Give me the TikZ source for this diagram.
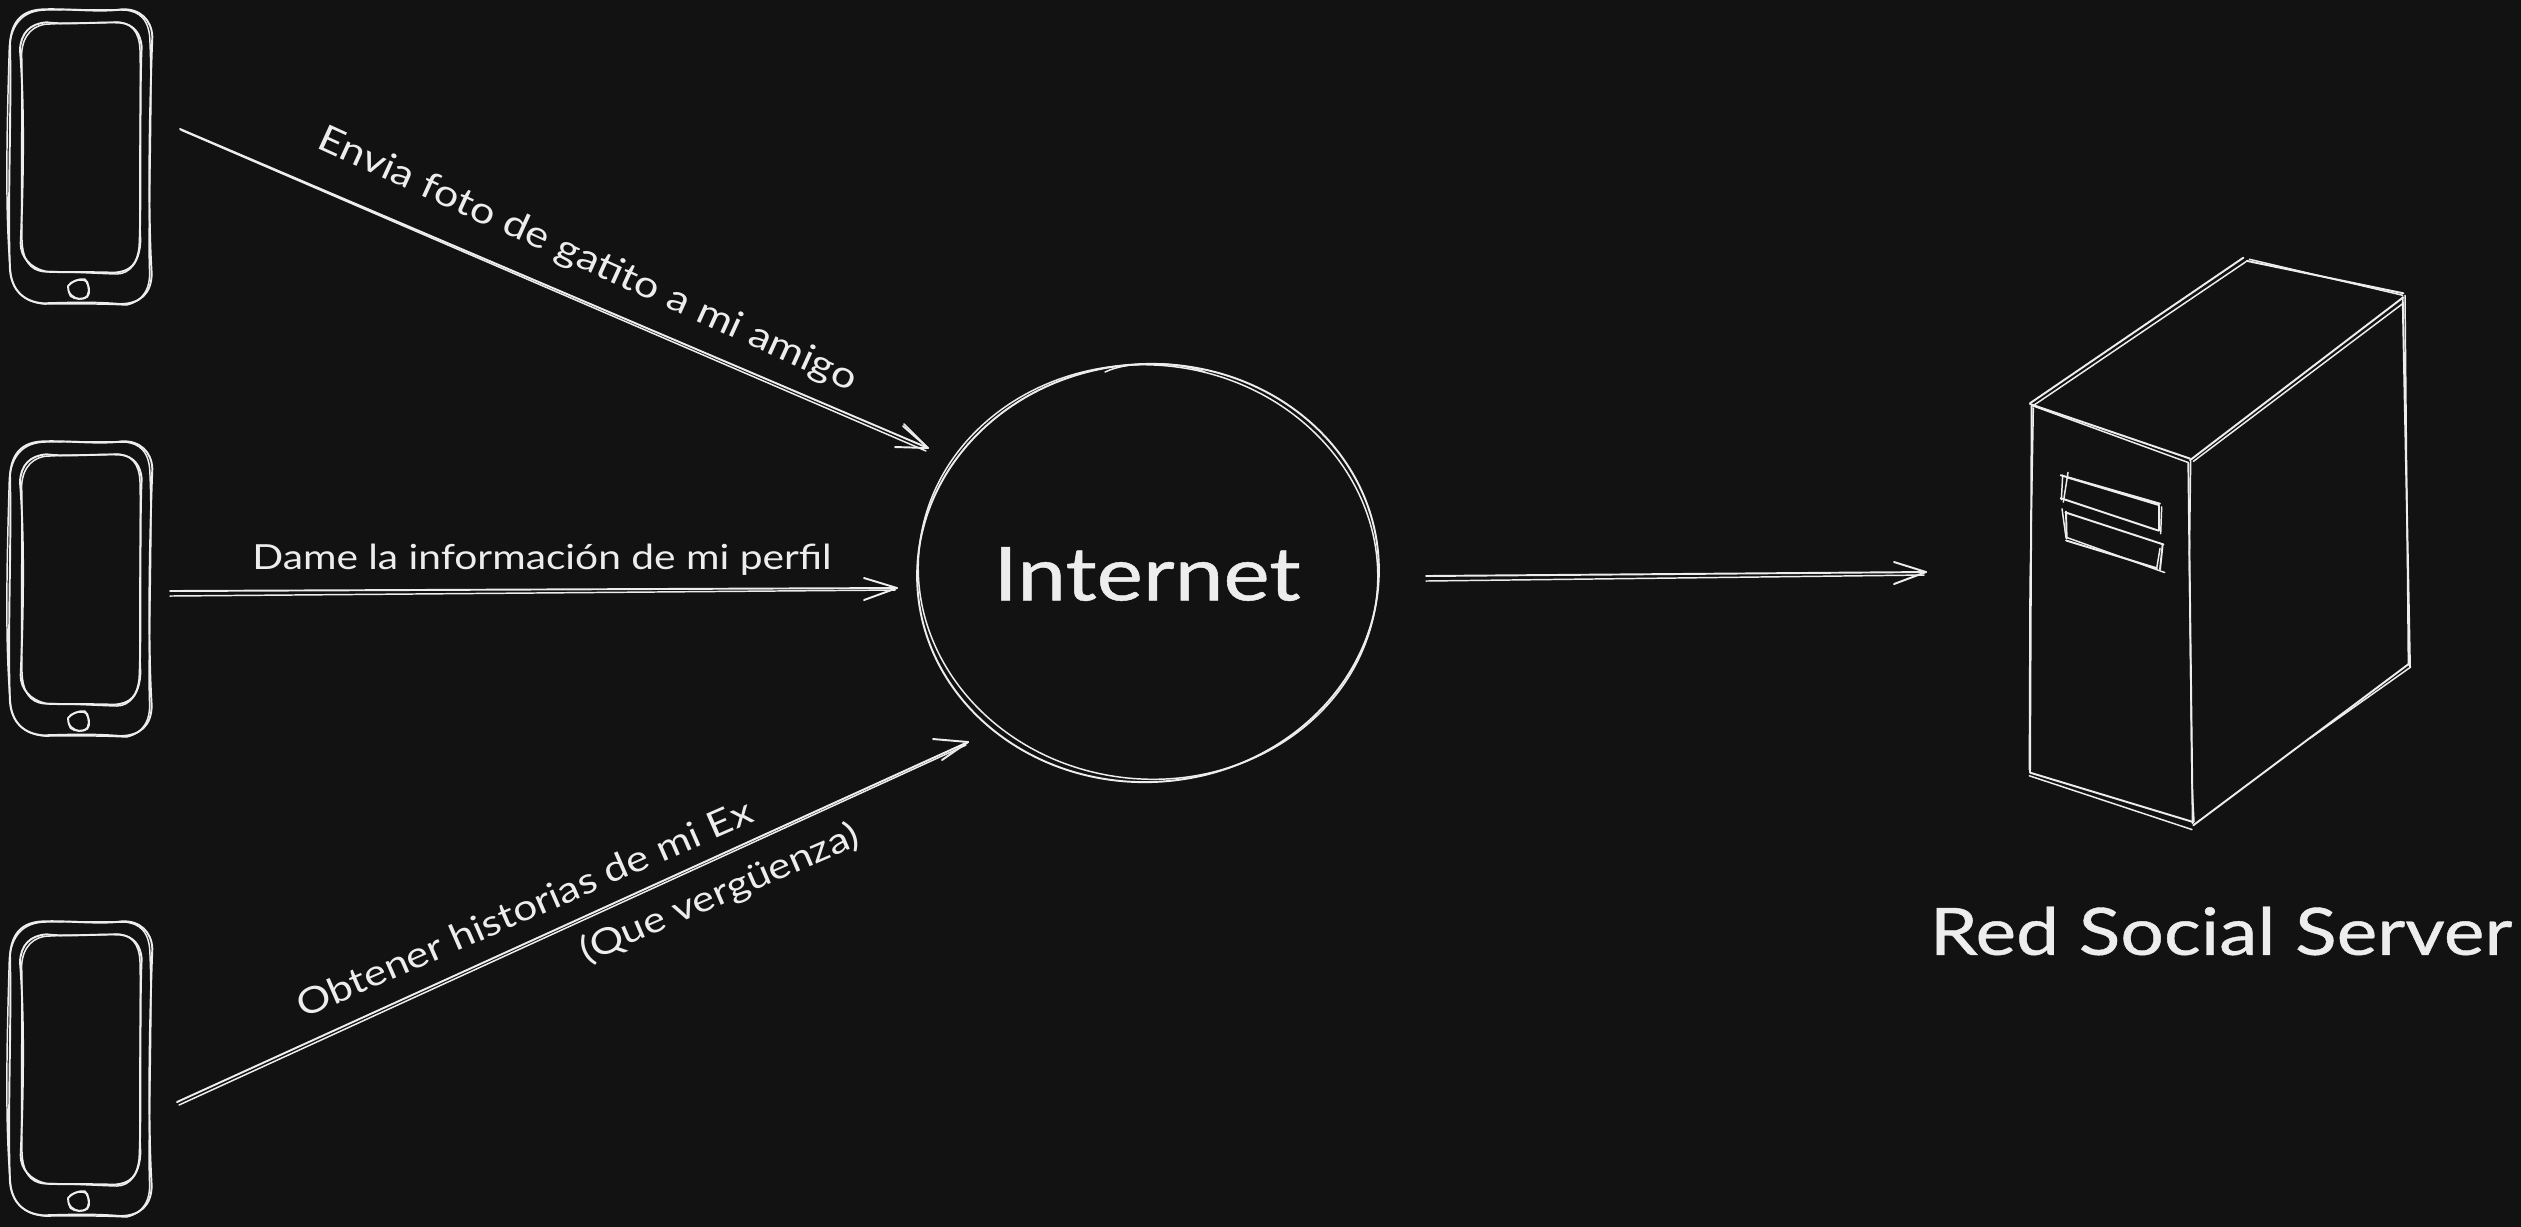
\documentclass[tikz,border=0pt]{standalone}
\usepackage{fontspec}
\setmainfont{Lato}
\newfontfamily\heavyfont[FakeBold=0.6]{Lato}
\definecolor{bgdark}{HTML}{121212}
\definecolor{inkw}{HTML}{EDEDED}
\newcommand{\fitw}[2]{\scalebox{1}[0.85]{\resizebox{#1}{!}{#2}}}
\tikzset{
  sk/.style={draw=inkw,line width=0.55pt,line cap=round,line join=round},
  skt/.style={sk,line width=0.42pt},
  lbl/.style={text=inkw,inner sep=0pt,font=\mdseries},
  phone/.pic={
    \begin{scope}[scale=0.33333]
    \draw[sk] (30,130) .. controls (35,60) and (70,30) .. (130,28) .. controls (200,25) and (300,38) .. (365,28) .. controls (420,25) and (455,60) .. (457,110) .. controls (450,300) and (442,600) .. (455,820) .. controls (455,880) and (420,912) .. (360,912) .. controls (280,905) and (200,908) .. (130,910) .. controls (70,905) and (35,870) .. (30,810) .. controls (22,600) and (35,350) .. (30,130);
    \draw[skt] (28,140) .. controls (35,70) and (70,32) .. (135,30) .. controls (220,28) and (300,30) .. (370,30) .. controls (420,32) and (450,60) .. (450,130) .. controls (458,300) and (445,600) .. (448,800) .. controls (455,870) and (425,905) .. (380,915) .. controls (290,910) and (200,912) .. (135,912) .. controls (75,908) and (40,875) .. (32,820) .. controls (15,650) and (20,400) .. (28,140);
    \draw[sk] (60,150) .. controls (62,100) and (90,70) .. (140,67) .. controls (200,75) and (300,65) .. (360,68) .. controls (400,72) and (422,100) .. (425,140) .. controls (418,300) and (425,600) .. (418,740) .. controls (412,790) and (395,815) .. (340,818) .. controls (280,815) and (200,818) .. (140,815) .. controls (90,805) and (62,770) .. (62,730) .. controls (72,500) and (72,300) .. (60,150);
    \draw[skt] (65,160) .. controls (68,105) and (100,72) .. (150,72) .. controls (220,68) and (300,70) .. (350,66) .. controls (395,68) and (418,95) .. (420,150) .. controls (424,300) and (415,600) .. (422,720) .. controls (420,785) and (390,822) .. (350,822) .. controls (280,820) and (200,814) .. (130,815) .. controls (90,810) and (68,780) .. (66,720) .. controls (62,500) and (68,300) .. (65,160);
    \draw[sk] (204,858) .. controls (215,845) and (235,835) .. (255,838) .. controls (270,860) and (270,880) .. (262,890) .. controls (245,900) and (225,898) .. (212,888) .. controls (205,875) and (204,865) .. (204,858);
    \draw[skt] (210,850) .. controls (225,840) and (245,835) .. (262,845) .. controls (268,865) and (268,885) .. (255,895) .. controls (235,902) and (215,890) .. (206,875);
    \end{scope}
  }
}
\begin{document}
\begin{tikzpicture}[x=0.01cm,y=-0.01cm]
\useasboundingbox (0,0) rectangle (2521,1226);
\fill[bgdark] (-8,-8) rectangle (2529,1234);

% phones
\pic (phoneA) at (0,0) {phone};
\pic (phoneB) at (0,432) {phone};
\pic (phoneC) at (0,912) {phone};

% internet cloud
\draw[sk,rotate around={4:(1148,573)}] (1148,573) ellipse [x radius=231,y radius=209];
\draw[skt,rotate around={-6:(1148,572)}] (1148,572) ellipse [x radius=230,y radius=207];
\draw[skt] (1105,372) .. controls (1130,360) and (1180,362) .. (1205,372);
\node[lbl] (internet) at (1147,574) {\heavyfont\fitw{3.07cm}{Internet}};

% server
\begin{scope}[shift={(1980,230)},xscale=0.33333,yscale=0.3955]
\draw[sk] (150,438) -- (790,70);
\draw[skt] (158,445) -- (798,80);
\draw[sk] (800,78) -- (1270,160);
\draw[skt] (808,74) -- (1268,165);
\draw[sk] (630,582) -- (1270,170);
\draw[skt] (640,585) -- (1270,185);
\draw[sk] (150,440) -- (630,578);
\draw[skt] (160,445) -- (625,588);
\draw[sk] (155,445) -- (150,1370);
\draw[skt] (160,450) -- (150,905) -- (148,1365);
\draw[sk] (625,590) -- (638,1500);
\draw[skt] (632,585) -- (628,835) -- (636,1405) -- (642,1495);
\draw[sk] (1268,170) -- (1290,1105);
\draw[skt] (1275,165) -- (1285,1100);
\draw[sk] (640,1505) -- (1285,1098);
\draw[skt] (990,1285) -- (1292,1105);
\draw[sk] (150,1372) -- (640,1497);
\draw[skt] (148,1380) -- (636,1516);
% slots
\draw[sk] (242,620) -- (540,692);
\draw[sk] (260,625) -- (535,695);
\draw[skt] (264,613) -- (250,688);
\draw[skt] (248,620) -- (244,682);
\draw[sk] (242,678) -- (535,760);
\draw[sk] (536,695) -- (536,760);
\draw[skt] (545,700) -- (542,768);
\draw[sk] (256,714) -- (550,795);
\draw[skt] (246,705) -- (258,778);
\draw[sk] (258,712) -- (260,780);
\draw[sk] (258,785) -- (530,855);
\draw[skt] (262,778) -- (554,866);
\draw[sk] (548,795) -- (540,858);
\draw[skt] (540,805) -- (530,856);
\end{scope}

% arrow ends
\coordinate (aAs) at (180,129);  \coordinate (aAe) at (928,448);
\coordinate (aAb) at (903,426);  \coordinate (aAc) at (895,447);
\coordinate (aBs) at (170,591);  \coordinate (aBe) at (897,588);
\coordinate (aBb) at (864,578);  \coordinate (aBc) at (864,600);
\coordinate (aCs) at (177,1102); \coordinate (aCe) at (968,742);
\coordinate (aCb) at (933,739);  \coordinate (aCc) at (942,760);
\coordinate (aDs) at (1426,576); \coordinate (aDe) at (1926,572);
\coordinate (aDb) at (1894,562); \coordinate (aDc) at (1894,584);

\draw[sk] (aAs) -- (aAe);
\draw[skt] ([shift={(1,1)}]aAs) -- ([shift={(-2,3)}]aAe);
\draw[sk] (aAb) -- (aAe) -- (aAc);
\draw[skt] ([shift={(1,-2)}]aAb) -- ([shift={(-1,-1)}]aAe);
\draw[sk] (aBs) -- (aBe);
\draw[skt] ([shift={(0,5)}]aBs) -- ([shift={(-2,2)}]aBe);
\draw[sk] (aBb) -- (aBe) -- (aBc);
\draw[sk] (aCs) -- (aCe);
\draw[skt] ([shift={(2,3)}]aCs) -- ([shift={(-2,3)}]aCe);
\draw[sk] (aCb) -- (aCe) -- (aCc);
\draw[sk] (aDs) -- (aDe);
\draw[skt] ([shift={(0,5)}]aDs) -- ([shift={(-2,3)}]aDe);
\draw[sk] (aDb) -- (aDe) -- (aDc);

% labels
\node[lbl,rotate=-24.5] (lA) at (587,260) {\fitw{5.88cm}{Envia foto de gatito a mi amigo}};
\node[lbl] (lB) at (542,560) {\fitw{5.79cm}{Dame la información de mi perfil}};
\node[lbl,rotate=23.6] (lC) at (524,908) {\fitw{4.93cm}{Obtener historias de mi Ex}};
\node[lbl,rotate=23.4] (lD) at (720,894) {\fitw{3.00cm}{(Que vergüenza)}};
\node[lbl] (srv) at (2221,931) {\heavyfont\fitw{5.82cm}{Red Social Server}};
\end{tikzpicture}
\end{document}
